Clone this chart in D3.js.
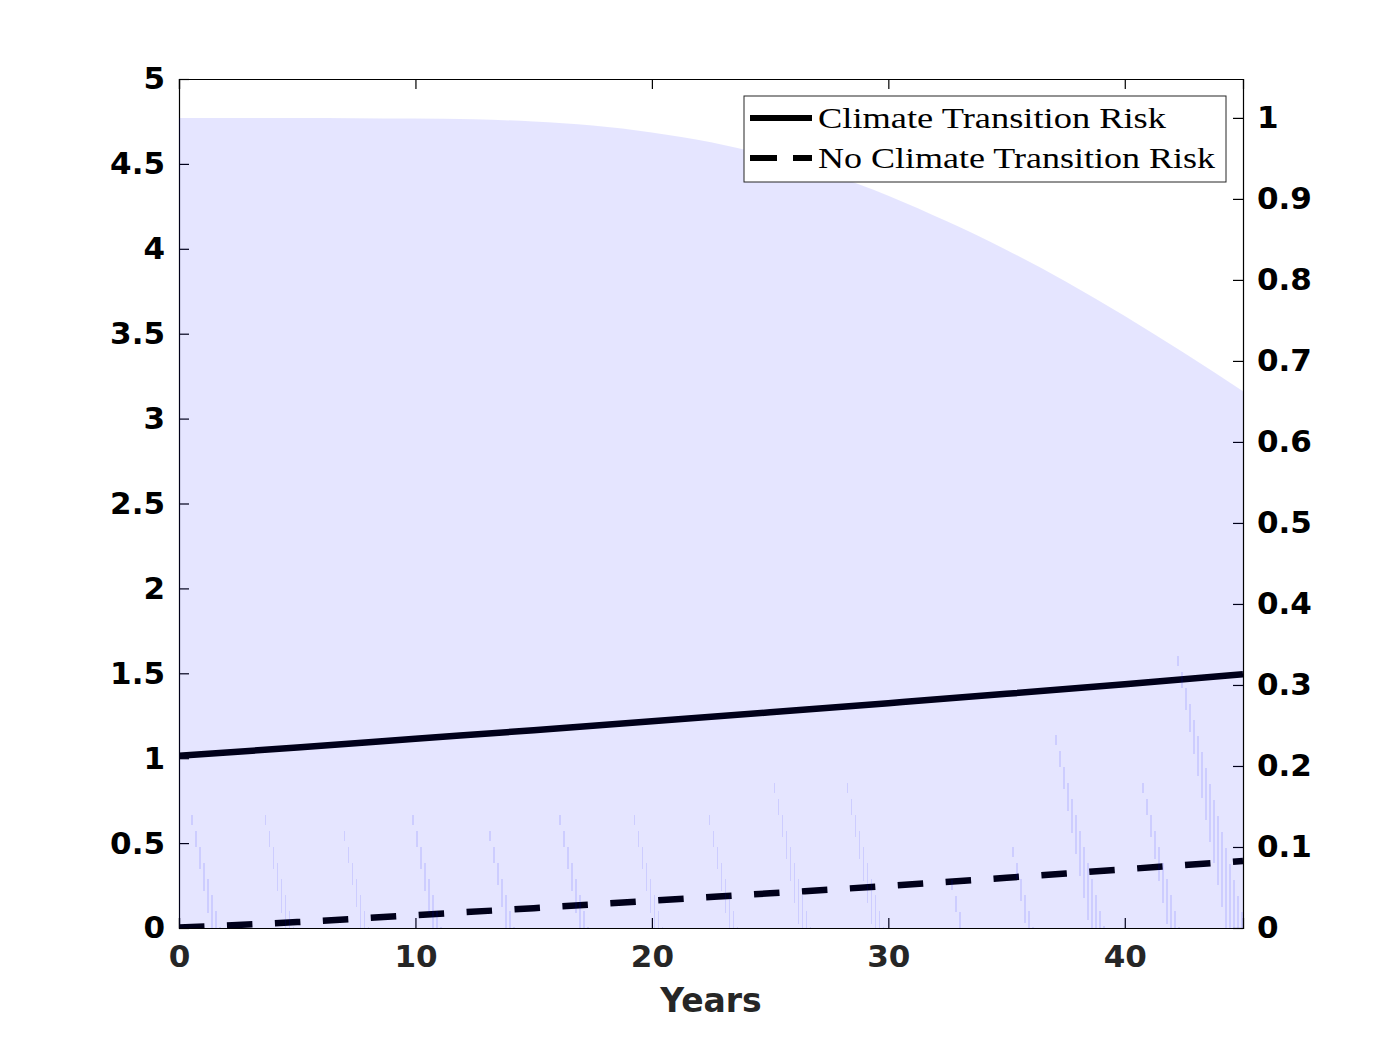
<!DOCTYPE html>
<html>
<head>
<meta charset="utf-8">
<script src="https://cdn.jsdelivr.net/npm/d3@7"></script>
<style>
  body { margin: 0; background: #fff; }
  svg { display: block; }
</style>
</head>
<body>
<div id="chart"></div>
<script>
// values
var years      = [0, 5, 10, 15, 20, 25, 30, 35, 40, 45];
var withRisk   = [1.014, 1.063, 1.114, 1.165, 1.217, 1.270, 1.324, 1.379, 1.436, 1.495];
var noRisk     = [0.003, 0.035, 0.076, 0.117, 0.161, 0.204, 0.248, 0.296, 0.346, 0.394];

// shaded band, right axis
var bandYears  = [0, 2.5, 5, 7.5, 10, 12.5, 15, 17.5, 20, 22.5, 25, 27.5, 30, 32.5, 35, 37.5, 40, 42.5, 45];
var bandValues = [1.000, 1.000, 1.000, 0.9996, 0.9992, 0.9983, 0.9955, 0.9905, 0.982, 0.970, 0.953, 0.931,
                  0.904, 0.872, 0.837, 0.798, 0.7555, 0.710, 0.6625];

// faint seams in the band (start year, top on left axis)
var seamYears = [0.56, 3.65, 6.99, 9.90, 13.15, 16.11, 19.26, 22.43, 25.18, 28.27, 32.7, 35.27, 37.09, 40.77, 42.25];
var seamTops  = [0.665, 0.665, 0.571, 0.665, 0.571, 0.665, 0.665, 0.665, 0.854, 0.854, 0.28, 0.477, 1.137, 0.854, 1.60];

var xTicks      = [0, 10, 20, 30, 40];
var yLeftTicks  = [0, 0.5, 1, 1.5, 2, 2.5, 3, 3.5, 4, 4.5, 5];
var yRightTicks = [0, 0.1, 0.2, 0.3, 0.4, 0.5, 0.6, 0.7, 0.8, 0.9, 1];
var legendLabels = ["Climate Transition Risk", "No Climate Transition Risk"];

// set the dimensions and margins of the graph
var margin = {top: 79, right: 132, bottom: 116, left: 179},
  width = 1375 - margin.left - margin.right,
  height = 1044 - margin.top - margin.bottom;

var svg = d3.select("#chart")
.append("svg")
  .attr("width", 1375)
  .attr("height", 1044)
.append("g")
  .attr("transform", "translate(" + margin.left + "," + margin.top + ")");

var x = d3.scaleLinear().domain([0, 45]).range([0, width]);
var yL = d3.scaleLinear().domain([0, 5]).range([height, 0]);
var yR = d3.scaleLinear().domain([0, 1.048]).range([height, 0]);

svg.append("clipPath").attr("id", "clip")
  .append("rect").attr("width", width).attr("height", height);

// axes (inward ticks, MATLAB style)
var tickFont = "'DejaVu Sans', sans-serif";

var xAxis = svg.append("g")
  .attr("transform", "translate(0," + height + ")")
  .call(d3.axisBottom(x).tickValues(xTicks).tickSize(-10).tickPadding(17).tickFormat(d3.format("d")));
var xTop = svg.append("g")
  .call(d3.axisTop(x).tickValues(xTicks).tickSize(-10).tickFormat(""));
var yAxisL = svg.append("g")
  .call(d3.axisLeft(yL).tickValues(yLeftTicks).tickSize(-10).tickPadding(14).tickFormat(d3.format("")));
var yAxisR = svg.append("g")
  .attr("transform", "translate(" + width + ",0)")
  .call(d3.axisRight(yR).tickValues(yRightTicks).tickSize(-10).tickPadding(14).tickFormat(d3.format("")));

[xAxis, xTop, yAxisL, yAxisR].forEach(function(a) {
  a.select(".domain").attr("stroke", "#000").attr("stroke-width", 1.2);
  a.selectAll(".tick line").attr("stroke", "#000").attr("stroke-width", 1.2);
  a.selectAll("text")
    .attr("font-family", tickFont)
    .attr("font-weight", "bold")
    .attr("font-size", "31px")
    .attr("fill", "#000");
});
xAxis.selectAll("text").attr("fill", "#262626");

svg.append("text")
  .attr("x", width / 2)
  .attr("y", height + 84)
  .attr("text-anchor", "middle")
  .attr("font-family", tickFont)
  .attr("font-weight", "bold")
  .attr("font-size", "33px")
  .attr("fill", "#262626")
  .text("Years");

// lines
var lineL = d3.line()
  .x(function(d, i) { return x(years[i]); })
  .y(function(d) { return yL(d); })
  .curve(d3.curveMonotoneX);

var plot = svg.append("g").attr("clip-path", "url(#clip)");

plot.append("path")
  .attr("d", lineL(withRisk))
  .attr("fill", "none")
  .attr("stroke", "#000")
  .attr("stroke-width", 6.5);

plot.append("path")
  .attr("d", lineL(noRisk))
  .attr("fill", "none")
  .attr("stroke", "#000")
  .attr("stroke-width", 6.5)
  .attr("stroke-dasharray", "25.5,22.5");

// translucent band drawn on top, as in the original
var area = d3.area()
  .x(function(d, i) { return x(bandYears[i]); })
  .y0(yR(0))
  .y1(function(d) { return yR(d); })
  .curve(d3.curveMonotoneX);

plot.append("path")
  .attr("d", area(bandValues))
  .attr("fill", "#0000ff")
  .attr("fill-opacity", 0.1);

// patch seams: little staircases running down to zero
var segs = [];
seamYears.forEach(function(yr, i) {
  var top = seamTops[i];
  for (var k = 0; top - k * 0.094 > 0; k++) {
    var t = top - k * 0.094;
    segs.push({yr: yr + k * 0.169, v0: t, v1: Math.max(0, t - 0.059 - 0.035 * k)});
  }
});

plot.selectAll(".seam")
  .data(segs)
  .enter()
  .append("line")
    .attr("class", "seam")
    .attr("x1", function(d) { return x(d.yr); })
    .attr("x2", function(d) { return x(d.yr); })
    .attr("y1", function(d) { return yL(d.v0); })
    .attr("y2", function(d) { return yL(d.v1); })
    .attr("stroke", "#0000ff")
    .attr("stroke-opacity", 0.1)
    .attr("stroke-width", 1.5)
    .attr("shape-rendering", "crispEdges");

// legend
var lg = svg.append("g").attr("transform", "translate(" + (744 - margin.left) + "," + (96 - margin.top) + ")");
lg.append("rect")
  .attr("width", 482).attr("height", 86)
  .attr("fill", "#fff")
  .attr("stroke", "#262626")
  .attr("stroke-width", 1);

legendLabels.forEach(function(lab, i) {
  var yy = 22 + i * 40;
  lg.append("line")
    .attr("x1", 6).attr("x2", 68)
    .attr("y1", yy).attr("y2", yy)
    .attr("stroke", "#000")
    .attr("stroke-width", 6)
    .attr("stroke-dasharray", i == 1 ? "27,16,19" : null);
  lg.append("text")
    .attr("x", 74)
    .attr("y", yy + 10)
    .attr("font-family", "'Liberation Serif', 'DejaVu Serif', serif")
    .attr("font-size", "29px")
    .attr("fill", "#000")
    .attr("textLength", i == 0 ? 348 : 397)
    .attr("lengthAdjust", "spacingAndGlyphs")
    .text(lab);
});
</script>
</body>
</html>
